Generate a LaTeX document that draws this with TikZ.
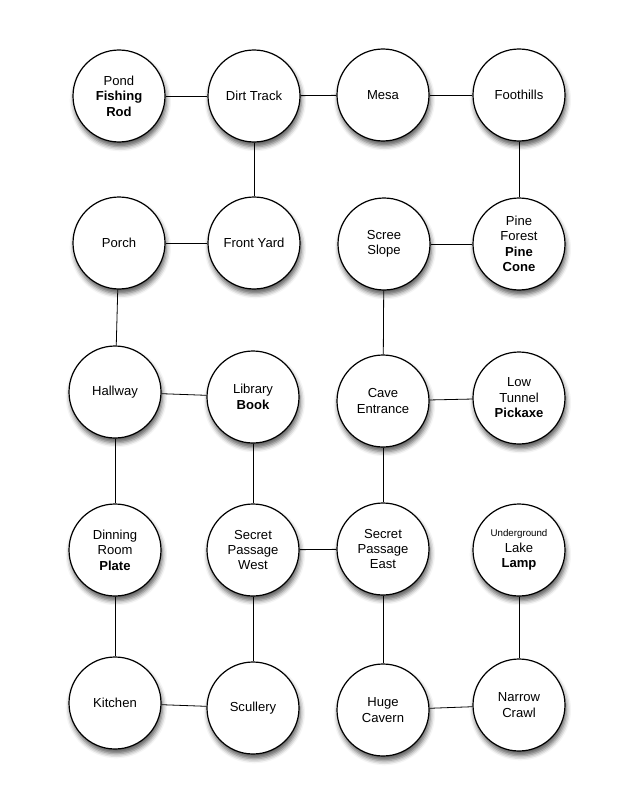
\documentclass[tikz,border=0pt]{standalone}
\usepackage{fontspec}
\setmainfont{Liberation Sans}
\usepackage{tikz}
\usetikzlibrary{shadows,shadows.blur}

\begin{document}
\begin{tikzpicture}[
    x=0.75pt, y=-0.75pt,
    room/.style={circle, draw, line width=0.9pt, fill=white, minimum size=69pt, inner sep=0pt, align=center,
        font=\fontsize{9.8}{11.6}\selectfont,
        blur shadow={shadow xshift=1pt, shadow yshift=-3.5pt, shadow blur radius=3.5pt, shadow opacity=65}},
    path/.style={line width=0.6pt}
]
\useasboundingbox (0,0) rectangle (633,806);

% Nodes
\node[room] (pond) at (119,96) {Pond\\\textbf{Fishing}\\\textbf{Rod}};
\node[room] (dirt) at (254,96) {Dirt Track};
\node[room] (mesa) at (383,95) {Mesa};
\node[room] (foot) at (519,95) {Foothills};

\node[room] (porch) at (119,243) {Porch};
\node[room] (yard) at (254,243) {Front Yard};
\node[room] (scree) at (384,244) {Scree\\Slope};
\node[room] (pine) at (519,244) {Pine\\Forest\\\textbf{Pine}\\\textbf{Cone}};

\node[room] (hall) at (115,392) {Hallway};
\node[room] (library) at (253,397) {Library\\\textbf{Book}};
\node[room] (cave) at (383,401) {Cave\\Entrance};
\node[room] (tunnel) at (519,398) {Low\\Tunnel\\\textbf{Pickaxe}};

\node[room] (dining) at (115,550) {Dinning\\Room\\\textbf{Plate}};
\node[room] (spw) at (253,550) {Secret\\Passage\\West};
\node[room] (spe) at (383,549) {Secret\\Passage\\East};
\node[room] (lake) at (519,550) {{\fontsize{7.3}{9}\selectfont Underground}\\Lake\\\textbf{Lamp}};

\node[room] (kitchen) at (115,703) {Kitchen};
\node[room] (scullery) at (253,708) {Scullery};
\node[room] (cavern) at (383,710) {Huge\\Cavern};
\node[room] (crawl) at (519,705) {Narrow\\Crawl};

% Paths
\draw[path] (pond) -- (dirt);
\draw[path] (dirt) -- (mesa);
\draw[path] (mesa) -- (foot);
\draw[path] (dirt) -- (yard);
\draw[path] (foot) -- (pine);
\draw[path] (porch) -- (yard);
\draw[path] (scree) -- (pine);
\draw[path] (porch) -- (hall);
\draw[path] (scree) -- (cave);
\draw[path] (hall) -- (library);
\draw[path] (cave) -- (tunnel);
\draw[path] (hall) -- (dining);
\draw[path] (library) -- (spw);
\draw[path] (cave) -- (spe);
\draw[path] (spw) -- (spe);
\draw[path] (dining) -- (kitchen);
\draw[path] (spw) -- (scullery);
\draw[path] (spe) -- (cavern);
\draw[path] (lake) -- (crawl);
\draw[path] (kitchen) -- (scullery);
\draw[path] (cavern) -- (crawl);

\end{tikzpicture}
\end{document}
